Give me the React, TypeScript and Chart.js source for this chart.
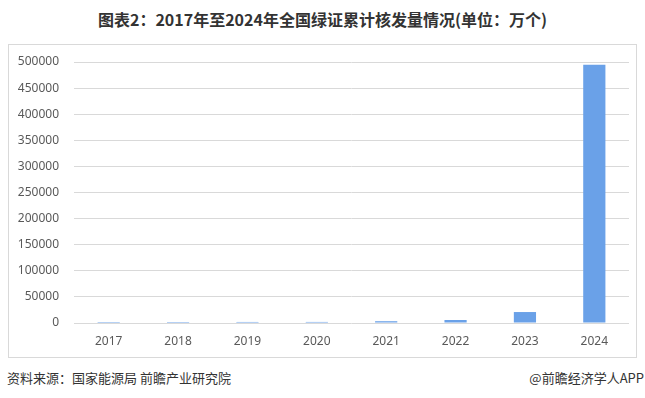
import React, { useEffect, useRef } from "react";
import { Chart, registerables } from "chart.js";

Chart.register(...registerables);

const title = "图表2：2017年至2024年全国绿证累计核发量情况(单位：万个)";
const years = ["2017", "2018", "2019", "2020", "2021", "2022", "2023", "2024"];
const issued = [1900, 1950, 2000, 2050, 3400, 5800, 21000, 494500];
const yMax = 500000;
const yStep = 50000;
const sourceText = "资料来源：国家能源局 前瞻产业研究院";
const brandText = "@前瞻经济学人APP";

export default function App() {
  const ref = useRef<HTMLCanvasElement | null>(null);

  useEffect(() => {
    if (!ref.current) return;
    const chart = new Chart(ref.current, {
      type: "bar",
      data: {
        labels: years,
        datasets: [
          {
            data: issued,
            backgroundColor: "#6aa1e8",
            borderWidth: 0,
            categoryPercentage: 1,
            barPercentage: 0.32,
          },
        ],
      },
      options: {
        animation: false,
        responsive: false,
        maintainAspectRatio: false,
        layout: { padding: { top: 17, right: 7, bottom: 0, left: 0 } },
        plugins: { legend: { display: false }, tooltip: { enabled: false } },
        scales: {
          x: {
            grid: { display: false, drawTicks: false },
            border: { display: false },
            ticks: {
              color: "#595959",
              font: { family: "'Noto Sans', 'DejaVu Sans', sans-serif", size: 12 },
              padding: 11,
            },
            afterFit: (s: any) => {
              s.height = 34;
            },
          },
          y: {
            min: 0,
            max: yMax,
            grid: {
              color: "#d9d9d9",
              drawTicks: true,
              tickLength: 12,
              tickColor: "rgba(0,0,0,0)",
              lineWidth: 1,
            },
            border: { display: false },
            ticks: {
              stepSize: yStep,
              color: "#595959",
              font: { family: "'Noto Sans', 'DejaVu Sans', sans-serif", size: 12 },
              padding: 3,
              callback: (v: any) => String(v),
            },
            afterFit: (s: any) => {
              s.width = 65;
            },
          },
        },
      },
    });
    return () => chart.destroy();
  }, []);

  return (
    <div
      style={{
        position: "fixed",
        left: 0,
        top: 0,
        width: 645,
        height: 398,
        background: "#fff",
        fontFamily: "'Noto Sans CJK SC', 'Noto Sans', sans-serif",
      }}
    >
      <div
        style={{
          position: "absolute",
          left: 0,
          width: 645,
          top: 8,
          textAlign: "center",
          fontSize: 16,
          fontWeight: 700,
          color: "#333",
          lineHeight: "22px",
        }}
      >
        {title}
      </div>
      <div
        style={{
          position: "absolute",
          left: 8,
          top: 44,
          width: 627,
          height: 312,
          border: "1px solid #d9d9d9",
        }}
      >
        <canvas ref={ref} width={627} height={312} style={{ display: "block" }} />
      </div>
      <div
        style={{
          position: "absolute",
          left: 7,
          top: 369,
          fontSize: 13,
          color: "#333",
          lineHeight: "18px",
          whiteSpace: "nowrap",
        }}
      >
        {sourceText}
      </div>
      <div
        style={{
          position: "absolute",
          right: 1,
          top: 369,
          fontSize: 13,
          color: "#333",
          lineHeight: "18px",
          whiteSpace: "nowrap",
        }}
      >
        {brandText}
      </div>
    </div>
  );
}
